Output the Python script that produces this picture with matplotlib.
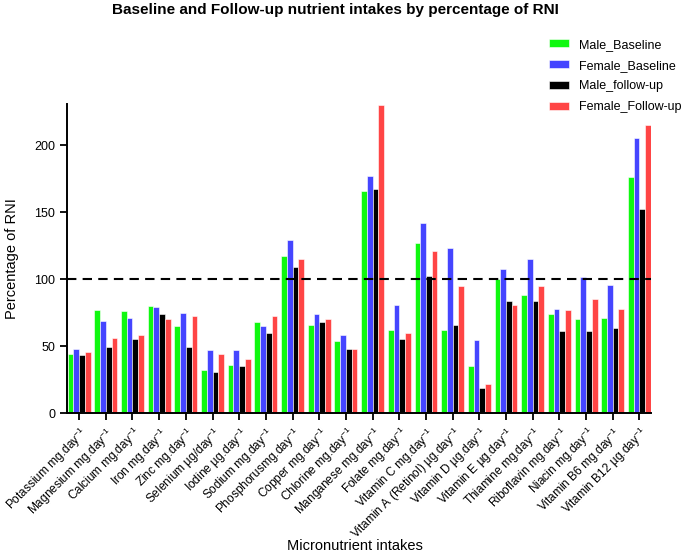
import matplotlib
matplotlib.use("Agg")
import matplotlib.pyplot as plt
import numpy as np

plt.rcParams['font.family'] = ['Liberation Sans', 'DejaVu Sans']
plt.rcParams['mathtext.fontset'] = 'custom'
plt.rcParams['mathtext.rm'] = 'Liberation Sans'
plt.rcParams['mathtext.it'] = 'Liberation Sans'

categories = ["Potassium mg.day", "Magnesium mg.day", "Calcium mg.day", "Iron mg.day",
              "Zinc mg.day", "Selenium µg/day", "Iodine µg.day", "Sodium mg.day",
              "Phosphorusmg.day", "Copper mg.day", "Chlorine mg.day", "Manganese mg.day",
              "Folate mg.day", "Vitamin C mg.day", "Vitamin A (Retinol) µg.day",
              "Vitamin D µg.day", "Vitamin E µg.day", "Thiamine mg.day",
              "Riboflavin mg.day", "Niacin mg.day", "Vitamin B6 mg.day", "Vitamin B12 µg.day"]

male_baseline = [44, 77, 76, 80, 65, 32, 36, 68, 117, 66, 54, 166, 62, 127, 62, 35.5, 100, 88, 74, 70, 71, 176]
female_baseline = [48, 68.5, 71, 79, 75, 47, 47, 65, 129, 74, 58.5, 177, 81, 142, 123, 54.5, 107.5, 115, 78, 102, 96, 205]
male_followup = [43.5, 49.5, 55.5, 74, 49.5, 31, 35, 60, 109, 68, 48, 167, 55.5, 102.5, 65.5, 18.5, 84, 84, 61, 61.5, 63.5, 152]
female_followup = [45.5, 56, 58.5, 70.5, 72.5, 44, 40.5, 72.5, 115, 70, 48, 230, 60, 121, 95, 22, 81, 95, 77, 85.5, 77.5, 215]

series_names = ["Male_Baseline", "Female_Baseline", "Male_follow-up", "Female_Follow-up"]
series = [male_baseline, female_baseline, male_followup, female_followup]
colors = ["#10F810", "#4545FF", "#000000", "#FF4545"]

fig = plt.figure(figsize=(6.85, 5.55), dpi=100)
ax = fig.add_axes([0.098, 0.2553, 0.853, 0.5582])

x = np.arange(len(categories))
w = 0.215
for i, (vals, name, c) in enumerate(zip(series, series_names, colors)):
    ax.bar(x + (i - 1.5) * w, vals, width=w, color=c, edgecolor='white',
           linewidth=0.4, label=name, zorder=2)

ax.axhline(100, color='black', linestyle=(0, (4.5, 3)), linewidth=1.5, zorder=3)

ax.set_xlim(-0.45, len(categories) - 1 + 0.45)
ax.set_ylim(0, 231)
ax.set_yticks([0, 50, 100, 150, 200])
ax.set_xticks(x)
ax.tick_params(axis='both', width=1.3, length=5, color='black')
ax.tick_params(axis='y', labelsize=9)
ax.tick_params(axis='x', pad=3)
ax.set_xticklabels([c + r"$^{-1}$" for c in categories], rotation=45,
                   ha='right', rotation_mode='anchor', fontsize=8.6)

for s in ['top', 'right']:
    ax.spines[s].set_visible(False)
for s in ['left', 'bottom']:
    ax.spines[s].set_linewidth(1.4)

ax.set_ylabel("Percentage of RNI", fontsize=10.5)
ax.yaxis.set_label_coords(-0.082, 0.5)
fig.text(0.518, 0.004, "Micronutrient intakes", ha='center', va='bottom', fontsize=10.5)
fig.text(0.49, 0.982, "Baseline and Follow-up nutrient intakes by percentage of RNI",
         ha='center', va='center', fontsize=11, fontweight='bold')

leg = ax.legend(loc='upper left', bbox_to_anchor=(0.805, 1.245), frameon=False,
                fontsize=9, handlelength=1.6, handleheight=0.6, labelspacing=0.7)

fig.savefig("out.png", dpi=100)
